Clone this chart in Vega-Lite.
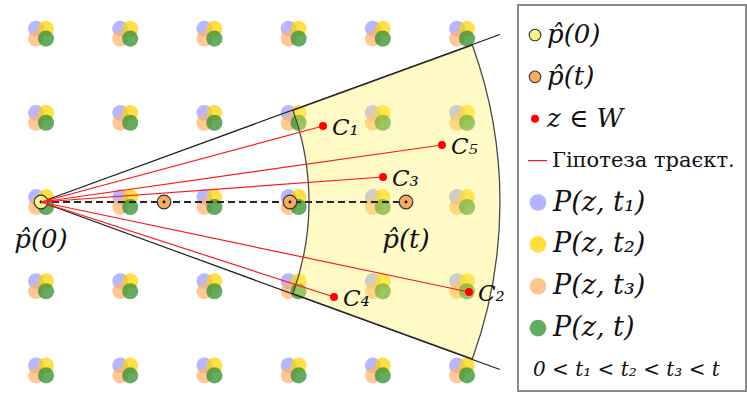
{
  "$schema": "https://vega.github.io/schema/vega-lite/v6.json",
  "padding": {"left": 0, "right": 0, "top": 4, "bottom": 2},
  "spacing": 0,
  "bounds": "flush",
  "config": {
    "view": {"stroke": null},
    "axis": {"disable": true},
    "legend": {"disable": true},
    "text": {"font": "DejaVu Serif", "color": "#111111"}
  },
  "datasets": {
    "grid": [
      {"gx": 0, "gy": 2}, {"gx": 1, "gy": 2}, {"gx": 2, "gy": 2}, {"gx": 3, "gy": 2}, {"gx": 4, "gy": 2}, {"gx": 5, "gy": 2},
      {"gx": 0, "gy": 1}, {"gx": 1, "gy": 1}, {"gx": 2, "gy": 1}, {"gx": 3, "gy": 1}, {"gx": 4, "gy": 1}, {"gx": 5, "gy": 1},
      {"gx": 0, "gy": 0}, {"gx": 1, "gy": 0}, {"gx": 2, "gy": 0}, {"gx": 3, "gy": 0}, {"gx": 4, "gy": 0}, {"gx": 5, "gy": 0},
      {"gx": 0, "gy": -1}, {"gx": 1, "gy": -1}, {"gx": 2, "gy": -1}, {"gx": 3, "gy": -1}, {"gx": 4, "gy": -1}, {"gx": 5, "gy": -1},
      {"gx": 0, "gy": -2}, {"gx": 1, "gy": -2}, {"gx": 2, "gy": -2}, {"gx": 3, "gy": -2}, {"gx": 4, "gy": -2}, {"gx": 5, "gy": -2}
    ],
    "sector": [{"from": 70, "to": 110, "inner": 3.183, "outer": 5.451}],
    "edges": [
      {"x": 0, "y": 0, "x2": 5.45, "y2": 1.99},
      {"x": 0, "y": 0, "x2": 5.45, "y2": -1.99}
    ],
    "track": [{"x": 0, "y": 0, "x2": 4.335, "y2": 0}],
    "estimates": [
      {"x": 0, "y": 0, "kind": "p0", "label": "p̂(0)"},
      {"x": 1.461, "y": 0, "kind": "pt", "label": ""},
      {"x": 2.957, "y": 0, "kind": "pt", "label": ""},
      {"x": 4.335, "y": 0, "kind": "pt", "label": "p̂(t)"}
    ],
    "candidates": [
      {"name": "C₁", "x": 3.349, "y": 0.903},
      {"name": "C₂", "x": 5.083, "y": -1.069},
      {"name": "C₃", "x": 4.062, "y": 0.297},
      {"name": "C₄", "x": 3.48, "y": -1.128},
      {"name": "C₅", "x": 4.762, "y": 0.677}
    ],
    "legend": [
      {"item": "p̂(0)", "kind": "p0"},
      {"item": "p̂(t)", "kind": "pt"},
      {"item": "z ∈ W", "kind": "z"},
      {"item": "Гіпотеза траєкт.", "kind": "hyp"},
      {"item": "P(z, t₁)", "kind": "P1"},
      {"item": "P(z, t₂)", "kind": "P2"},
      {"item": "P(z, t₃)", "kind": "P3"},
      {"item": "P(z, t)", "kind": "P4"},
      {"item": "0 < t₁ < t₂ < t₃ < t", "kind": "note"}
    ]
  },
  "hconcat": [
    {
      "width": 518,
      "height": 386,
      "layer": [
        {
          "data": {"name": "grid"},
          "mark": {"type": "circle", "size": 250, "opacity": 0.72, "xOffset": -5, "yOffset": -5},
          "encoding": {
            "x": {"field": "gx", "type": "quantitative", "scale": {"domain": [-0.4869, 5.6651], "nice": false, "zero": false}},
            "y": {"field": "gy", "type": "quantitative", "scale": {"domain": [-2.2447, 2.3397], "nice": false, "zero": false}},
            "color": {"datum": "P1", "type": "nominal", "scale": {"domain": ["P1", "P2", "P3", "P4"], "range": ["#9b9bff", "#ffd300", "#ffb36c", "#309030"]}}
          }
        },
        {
          "data": {"name": "grid"},
          "mark": {"type": "circle", "size": 250, "opacity": 0.72, "xOffset": 5, "yOffset": -5},
          "encoding": {
            "x": {"field": "gx", "type": "quantitative"},
            "y": {"field": "gy", "type": "quantitative"},
            "color": {"datum": "P2", "type": "nominal"}
          }
        },
        {
          "data": {"name": "grid"},
          "mark": {"type": "circle", "size": 250, "opacity": 0.72, "xOffset": -5, "yOffset": 5},
          "encoding": {
            "x": {"field": "gx", "type": "quantitative"},
            "y": {"field": "gy", "type": "quantitative"},
            "color": {"datum": "P3", "type": "nominal"}
          }
        },
        {
          "data": {"name": "grid"},
          "mark": {"type": "circle", "size": 260, "opacity": 0.75, "xOffset": 5, "yOffset": 5},
          "encoding": {
            "x": {"field": "gx", "type": "quantitative"},
            "y": {"field": "gy", "type": "quantitative"},
            "color": {"datum": "P4", "type": "nominal"}
          }
        },
        {
          "data": {"name": "sector"},
          "mark": {"type": "arc", "fill": "#fff061", "fillOpacity": 0.36, "stroke": "#4a4a4a", "strokeWidth": 1.3},
          "encoding": {
            "x": {"datum": 0, "type": "quantitative"},
            "y": {"datum": 0, "type": "quantitative"},
            "theta": {"field": "from", "type": "quantitative", "stack": null, "scale": {"type": "linear", "domain": [0, 360], "range": [0, 6.283185307]}},
            "theta2": {"field": "to"},
            "radius": {"field": "outer", "type": "quantitative", "scale": {"type": "linear", "domain": [0, 6.152], "range": [0, 518], "zero": true}},
            "radius2": {"field": "inner"}
          }
        },
        {
          "data": {"name": "edges"},
          "mark": {"type": "rule", "color": "#1e1e1e", "strokeWidth": 1.2},
          "encoding": {
            "x": {"field": "x", "type": "quantitative"},
            "y": {"field": "y", "type": "quantitative"},
            "x2": {"field": "x2"},
            "y2": {"field": "y2"}
          }
        },
        {
          "data": {"name": "track"},
          "mark": {"type": "rule", "color": "#262626", "strokeWidth": 1.8, "strokeDash": [7, 4]},
          "encoding": {
            "x": {"field": "x", "type": "quantitative"},
            "y": {"field": "y", "type": "quantitative"},
            "x2": {"field": "x2"},
            "y2": {"field": "y2"}
          }
        },
        {
          "data": {"name": "estimates"},
          "mark": {"type": "circle", "size": 185, "opacity": 1, "stroke": "#333333", "strokeWidth": 1.2},
          "encoding": {
            "x": {"field": "x", "type": "quantitative"},
            "y": {"field": "y", "type": "quantitative"},
            "fill": {"field": "kind", "type": "nominal", "scale": {"domain": ["p0", "pt"], "range": ["#f9f38c", "#f5ad66"]}}
          }
        },
        {
          "data": {"name": "estimates"},
          "mark": {"type": "circle", "size": 8, "color": "#111111", "opacity": 1},
          "encoding": {
            "x": {"field": "x", "type": "quantitative"},
            "y": {"field": "y", "type": "quantitative"}
          }
        },
        {
          "data": {"name": "candidates"},
          "mark": {"type": "rule", "color": "#ff1a1a", "strokeWidth": 1.2},
          "encoding": {
            "x": {"field": "x", "type": "quantitative"},
            "y": {"field": "y", "type": "quantitative"},
            "x2": {"datum": 0},
            "y2": {"datum": 0}
          }
        },
        {
          "data": {"name": "candidates"},
          "mark": {"type": "circle", "size": 64, "color": "#ff0000", "opacity": 1},
          "encoding": {
            "x": {"field": "x", "type": "quantitative"},
            "y": {"field": "y", "type": "quantitative"}
          }
        },
        {
          "data": {"name": "candidates"},
          "mark": {"type": "text", "align": "left", "baseline": "middle", "dx": 9, "dy": 2, "fontStyle": "italic", "fontSize": 23},
          "encoding": {
            "x": {"field": "x", "type": "quantitative"},
            "y": {"field": "y", "type": "quantitative"},
            "text": {"field": "name"}
          }
        },
        {
          "data": {"name": "estimates"},
          "transform": [{"filter": "datum.label != ''"}],
          "mark": {"type": "text", "align": "center", "baseline": "middle", "dy": 38, "fontStyle": "italic", "fontSize": 26},
          "encoding": {
            "x": {"field": "x", "type": "quantitative"},
            "y": {"field": "y", "type": "quantitative"},
            "text": {"field": "label"}
          }
        }
      ]
    },
    {
      "width": 228,
      "height": 386,
      "view": {"stroke": "#8a8a8a", "strokeWidth": 2},
      "data": {"name": "legend"},
      "encoding": {
        "y": {"field": "item", "type": "nominal", "sort": null, "scale": {"type": "point", "domain": ["p̂(0)", "p̂(t)", "z ∈ W", "Гіпотеза траєкт.", "P(z, t₁)", "P(z, t₂)", "P(z, t₃)", "P(z, t)", "0 < t₁ < t₂ < t₃ < t"], "range": [30, 365], "padding": 0}}
      },
      "layer": [
        {
          "transform": [{"filter": "datum.kind == 'p0' || datum.kind == 'pt'"}],
          "mark": {"type": "circle", "size": 135, "opacity": 1, "stroke": "#333333", "strokeWidth": 1.1},
          "encoding": {
            "x": {"datum": 17, "type": "quantitative", "scale": {"domain": [0, 228], "nice": false, "zero": false}},
            "fill": {"field": "kind", "type": "nominal"}
          }
        },
        {
          "transform": [{"filter": "datum.kind == 'z'"}],
          "mark": {"type": "circle", "size": 64, "color": "#ff0000", "opacity": 1},
          "encoding": {"x": {"datum": 17, "type": "quantitative"}}
        },
        {
          "transform": [{"filter": "datum.kind == 'hyp'"}],
          "mark": {"type": "rule", "color": "#ff1a1a", "strokeWidth": 1.2},
          "encoding": {"x": {"datum": 10, "type": "quantitative"}, "x2": {"datum": 29}}
        },
        {
          "transform": [{"filter": "indexof(['P1','P2','P3','P4'], datum.kind) >= 0"}],
          "mark": {"type": "circle", "size": 280, "opacity": 0.75},
          "encoding": {
            "x": {"datum": 20, "type": "quantitative"},
            "color": {"field": "kind", "type": "nominal"}
          }
        },
        {
          "transform": [{"filter": "datum.kind == 'p0' || datum.kind == 'pt' || datum.kind == 'z'"}],
          "mark": {"type": "text", "align": "left", "baseline": "middle", "fontStyle": "italic", "fontSize": 26},
          "encoding": {"x": {"datum": 29, "type": "quantitative"}, "text": {"field": "item"}}
        },
        {
          "transform": [{"filter": "datum.kind == 'hyp'"}],
          "mark": {"type": "text", "align": "left", "baseline": "middle", "fontSize": 21},
          "encoding": {"x": {"datum": 34, "type": "quantitative"}, "text": {"field": "item"}}
        },
        {
          "transform": [{"filter": "indexof(['P1','P2','P3','P4'], datum.kind) >= 0"}],
          "mark": {"type": "text", "align": "left", "baseline": "middle", "fontStyle": "italic", "fontSize": 27},
          "encoding": {"x": {"datum": 35, "type": "quantitative"}, "text": {"field": "item"}}
        },
        {
          "transform": [{"filter": "datum.kind == 'note'"}],
          "mark": {"type": "text", "align": "left", "baseline": "middle", "fontStyle": "italic", "fontSize": 20},
          "encoding": {"x": {"datum": 15, "type": "quantitative"}, "text": {"field": "item"}}
        }
      ]
    }
  ]
}
